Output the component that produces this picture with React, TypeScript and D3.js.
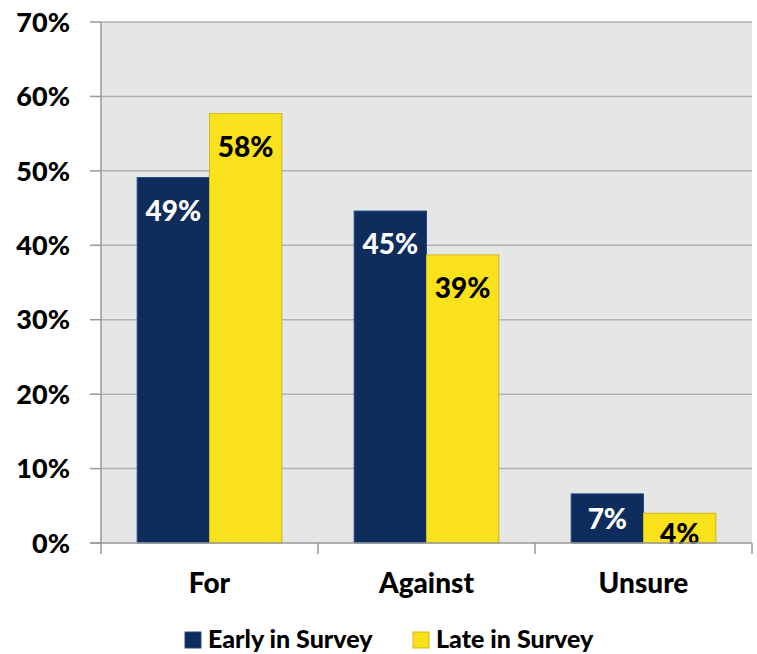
import React from 'react';
import * as d3 from 'd3';

const categories = ['For', 'Against', 'Unsure'];
const seriesNames = ['Early in Survey', 'Late in Survey'];
const earlyValues = [49.1, 44.6, 6.6];
const lateValues = [57.7, 38.7, 4.0];
const earlyLabels = ['49%', '45%', '7%'];
const lateLabels = ['58%', '39%', '4%'];
const yTicks = [0, 10, 20, 30, 40, 50, 60, 70];

const fills = ['#0f2d5c', '#f9e11b'];
const strokes = ['#1d4f86', '#cfb816'];
const labelColors = ['#ffffff', '#000000'];
const font = 'Lato, "DejaVu Sans", sans-serif';

const width = 757;
const height = 654;
const left = 101;
const right = 752;
const top = 22;
const bottom = 543;

const App: React.FC = () => {
  const x = d3.scaleBand<string>().domain(categories).range([left, right]);
  const inner = d3.scaleBand<number>().domain([0, 1]).range([0, x.bandwidth()]).paddingOuter(0.5).paddingInner(0);
  const y = d3.scaleLinear().domain([0, 70]).range([bottom, top]);

  const series = [earlyValues, lateValues];
  const labels = [earlyLabels, lateLabels];

  return (
    <svg width={width} height={height} style={{ position: 'absolute', left: 0, top: 0 }}>
      <rect x={left} y={top} width={right - left} height={bottom - top} fill="#e6e6e6" />
      {yTicks.filter(t => t > 0).map(t => (
        <line key={t} x1={left} x2={right} y1={y(t)} y2={y(t)} stroke="#b3b3b3" strokeWidth={1.5} />
      ))}
      {series.map((vals, s) =>
        categories.map((c, i) => {
          const bx = (x(c) || 0) + (inner(s) || 0);
          const by = y(vals[i]);
          const h = bottom - by;
          const cy = Math.min(by + 33, Math.max(by + h / 2, by + 21));
          return (
            <g key={`${s}-${c}`}>
              <rect x={bx} y={by} width={inner.bandwidth()} height={h} fill={fills[s]} stroke={strokes[s]} strokeWidth={1} />
              <text x={bx + inner.bandwidth() / 2} y={cy} dy="0.36em" textAnchor="middle"
                fontFamily={font} fontWeight={900} fontSize={28} fill={labelColors[s]}>{labels[s][i]}</text>
            </g>
          );
        })
      )}
      {/* axes */}
      <line x1={left} x2={left} y1={top} y2={bottom} stroke="#999" strokeWidth={1.5} />
      <line x1={left - 11} x2={right} y1={bottom} y2={bottom} stroke="#999" strokeWidth={1.5} />
      {yTicks.map(t => (
        <g key={t}>
          <line x1={left - 11} x2={left} y1={y(t)} y2={y(t)} stroke="#999" strokeWidth={1.5} />
          <text x={70} y={y(t)} dy="0.36em" textAnchor="end" fontFamily={font} fontWeight={900} fontSize={27} fill="#000">{t}%</text>
        </g>
      ))}
      {[...categories.map(c => x(c) || 0), right].map((v, i) => (
        <line key={i} x1={v} x2={v} y1={bottom} y2={bottom + 11} stroke="#999" strokeWidth={1.5} />
      ))}
      {categories.map(c => (
        <text key={c} x={(x(c) || 0) + x.bandwidth() / 2} y={593} textAnchor="middle"
          fontFamily={font} fontWeight={900} fontSize={28} fill="#000">{c}</text>
      ))}
      {/* legend */}
      {seriesNames.map((n, s) => {
        const lx = [185, 413][s];
        return (
          <g key={n}>
            <rect x={lx} y={632} width={16} height={16} fill={fills[s]} stroke={strokes[s]} strokeWidth={1} />
            <text x={lx + 23} y={648} fontFamily={font} fontWeight={900} fontSize={25} fill="#000">{n}</text>
          </g>
        );
      })}
    </svg>
  );
};

export default App;
